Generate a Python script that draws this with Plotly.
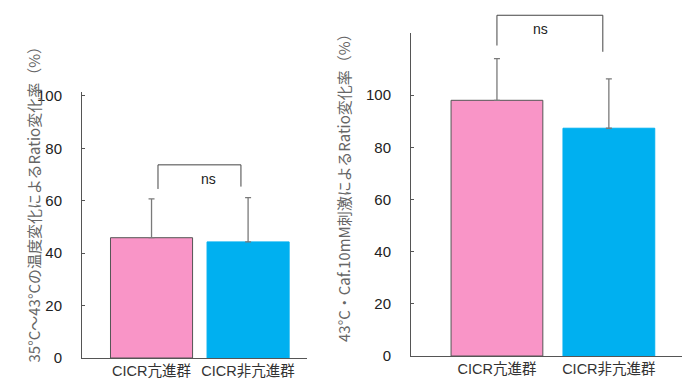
import plotly.graph_objects as go

# ---- data ----
groups = ["CICR亢進群", "CICR非亢進群"]
left_means = [45.9, 44.3]
left_err = [14.8, 16.9]
right_means = [98.0, 87.3]
right_err = [16.0, 18.9]
left_title = "35°C～43°Cの温度変化によるRatio変化率（%）"
right_title = "43°C・Caf.10mM刺激によるRatio変化率（%）"
y_ticks = [0, 20, 40, 60, 80, 100]
sig_label = "ns"
# bracket levels (data units): top, left end, right end
left_bracket = [73.7, 64.5, 65.4]
right_bracket = [130.6, 119.0, 116.6]

PINK = "#F995C7"
BLUE = "#00B0F0"
OFF = 8                      # page body margin in the browser
W, H = 690 - OFF, 380 - OFF  # visible figure size


def fx(p):
    return (p - OFF) / W


def fy(p):
    return (H - (p - OFF)) / H


# layout geometry (reference pixel positions)
L_XDOM = [fx(82), fx(307)]
L_YDOM = [fy(358), fy(92)]
L_XR = [-0.72, 1.61]
L_YR = [0, 101.5]
R_XDOM = [fx(411), 1.0]
R_YDOM = [fy(356), fy(33)]
R_XR = [-0.768, 1.725]
R_YR = [0, 123.8]

fig = go.Figure()

fig.add_trace(go.Bar(
    x=groups, y=left_means, xaxis="x", yaxis="y",
    marker=dict(color=[PINK, BLUE], line=dict(color=["#555555", BLUE], width=1)),
    width=0.85,
    error_y=dict(type="data", symmetric=False, array=left_err, arrayminus=[0, 0],
                 color="#7a7a7a", thickness=1.3, width=3),
    showlegend=False,
))
fig.add_trace(go.Bar(
    x=groups, y=right_means, xaxis="x2", yaxis="y2",
    marker=dict(color=[PINK, BLUE], line=dict(color=["#555555", BLUE], width=1)),
    width=0.82,
    error_y=dict(type="data", symmetric=False, array=right_err, arrayminus=[0, 0],
                 color="#7a7a7a", thickness=1.3, width=3),
    showlegend=False,
))

tickfont = dict(family="Liberation Sans, Arial, Noto Sans CJK JP", size=15, color="#222222")
catfont = dict(family="Liberation Sans, Noto Sans CJK JP", size=14.5, color="#333333")

common_y = dict(tickvals=y_ticks, ticks="inside", ticklen=3, tickcolor="#555555",
                showline=True, linecolor="#555555", linewidth=1, showgrid=False,
                zeroline=False, tickfont=tickfont, ticklabelstandoff=16, automargin=False)
common_x = dict(type="category", showline=True, linecolor="#555555", linewidth=1,
                showgrid=False, ticks="", tickfont=catfont, zeroline=False,
                automargin=False, ticklabelstandoff=0)

fig.update_layout(
    width=W, height=H,
    margin=dict(l=0, r=0, t=0, b=0, autoexpand=False),
    paper_bgcolor="white", plot_bgcolor="white",
    bargap=0.1,
    xaxis=dict(domain=L_XDOM, range=L_XR, anchor="y", **common_x),
    yaxis=dict(domain=L_YDOM, range=L_YR, anchor="x", **common_y),
    xaxis2=dict(domain=R_XDOM, range=R_XR, anchor="y2", **common_x),
    yaxis2=dict(domain=R_YDOM, range=R_YR, anchor="x2", **common_y),
)


def px_(xv, xdom, xr):
    return xdom[0] + (xv - xr[0]) / (xr[1] - xr[0]) * (xdom[1] - xdom[0])


def py_(yv, ydom, yr):
    return ydom[0] + (yv - yr[0]) / (yr[1] - yr[0]) * (ydom[1] - ydom[0])


def bracket(xl, xr_, levels, xdom, xrng, ydom, yrng):
    top, le, re = levels
    X0, X1 = px_(xl, xdom, xrng), px_(xr_, xdom, xrng)
    Yt = py_(top, ydom, yrng)
    Yl = py_(le, ydom, yrng)
    Yr = py_(re, ydom, yrng)
    path = f"M {X0},{Yl} L {X0},{Yt} L {X1},{Yt} L {X1},{Yr}"
    fig.add_shape(type="path", path=path, xref="paper", yref="paper",
                  line=dict(color="#444444", width=1))
    fig.add_annotation(x=(X0 + X1) / 2, y=Yt, xref="paper", yref="paper",
                       text=sig_label, showarrow=False, yanchor="top", yshift=-4,
                       font=dict(family="Liberation Sans, Arial", size=14, color="#222222"))


bracket(0.067, 0.926, left_bracket, L_XDOM, L_XR, L_YDOM, L_YR)
bracket(0.0, 0.946, right_bracket, R_XDOM, R_XR, R_YDOM, R_YR)

titlefont = dict(family="Noto Sans CJK JP", size=15, color="#666666")
fig.add_annotation(x=fx(20), y=fy(201), xref="paper", yref="paper",
                   text=left_title, textangle=-90, showarrow=False, font=titlefont)
fig.add_annotation(x=fx(343), y=fy(184), xref="paper", yref="paper",
                   text=right_title, textangle=-90, showarrow=False, font=titlefont)

fig.write_html("out.html")
